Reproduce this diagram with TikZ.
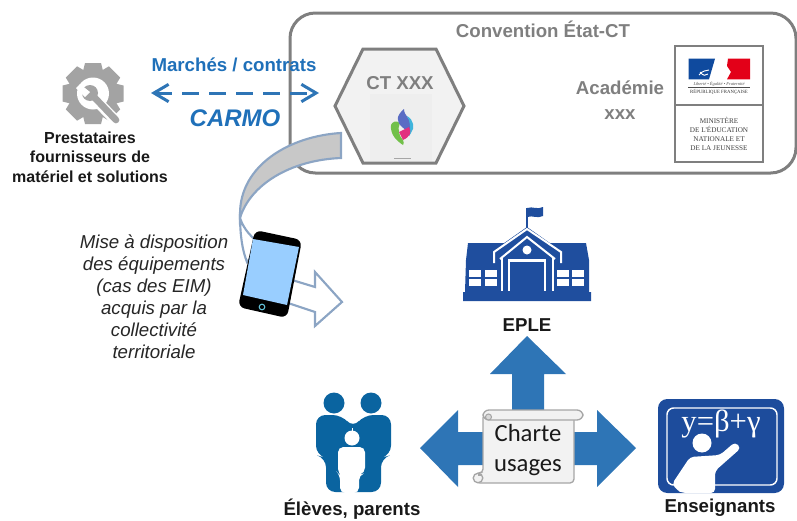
\documentclass[tikz,border=0pt]{standalone}
\usepackage{fontspec}
\setmainfont{Liberation Sans}
\newfontfamily\serifx{Liberation Serif}
\newfontfamily\carl{Carlito}
\usetikzlibrary{arrows.meta}
\definecolor{gline}{HTML}{7F7F7F}
\definecolor{hexfill}{HTML}{F2F2F2}
\definecolor{linkblue}{HTML}{1F70B9}
\definecolor{bigblue}{HTML}{2E75B6}
\definecolor{steel}{HTML}{8CA5C4}
\definecolor{curvegray}{HTML}{C8C8C8}
\definecolor{schoolblue}{HTML}{1F4E9E}
\definecolor{famblue}{HTML}{0A64A0}
\definecolor{iconblue}{HTML}{1D4C9C}
\definecolor{gearg}{HTML}{A3A3A3}
\definecolor{flagblue}{HTML}{0F4A9E}
\definecolor{flagred}{HTML}{E30018}
\definecolor{screenblue}{HTML}{99CEFF}
\definecolor{flpurple}{HTML}{5A6CC4}
\definecolor{flcyan}{HTML}{3FB4DC}
\definecolor{flgreen}{HTML}{72C04A}
\definecolor{flpink}{HTML}{E2307F}
\tikzset{
  x=0.75pt,y=-0.75pt,
  lbl/.style={font=\bfseries\fontsize{12}{14.6}\selectfont,align=center,text=black!90},
  big/.style={font=\bfseries\fontsize{14}{16}\selectfont,align=center,text=black!90},
  graytxt/.style={font=\bfseries\fontsize{14}{16}\selectfont,text=gline},
  bluetxt/.style={font=\bfseries\fontsize{14}{16}\selectfont,text=linkblue},
  mini/.style={font=\serifx\fontsize{5.4}{6.75}\selectfont,align=center,text=black!75,inner sep=0pt},
  dashconn/.style={draw=bigblue,line width=2.25pt,dash pattern=on 12.75pt off 7.5pt,
    {Straight Barb[length=11pt,width=13pt,line width=2.25pt]}-{Straight Barb[length=11pt,width=13pt,line width=2.25pt]}},
  whiteline/.style={draw=white,line width=1.5pt},
}
\begin{document}
\begin{tikzpicture}
\useasboundingbox (0,0) rectangle (797,521);
% convention frame
\draw[gline,line width=2.25pt,rounded corners=19pt] (290,13) rectangle (796,173);
\node[graytxt] (conv) at (543,29) {Convention État-CT};
% hexagon
\draw[gline,line width=2.25pt,fill=hexfill,line join=miter] (335,106)--(363,49)--(436,49)--(464,106)--(436,163)--(363,163)--cycle;
\fill[black!6.5] (370,94) rectangle (432,161);
\node[graytxt] (ct) at (400,83) {CT XXX};
% flame logo
\fill[black!35] (394,158) rectangle (411,158.8);
\fill[flgreen] (391,125) .. controls (392,122) and (396,120) .. (400,123) .. controls (397,129) and (399,136) .. (403,140) .. controls (404,142) and (404,144) .. (403,145) .. controls (397,141) and (390,135) .. (391,125) -- cycle;
\fill[flpurple] (404,109) .. controls (396,116) and (396,121) .. (402,127) .. controls (406,130) and (408,132) .. (409,136) .. controls (413,128) and (412,122) .. (408,118) .. controls (406,115) and (404,113) .. (404,109) -- cycle;
\fill[flcyan] (407,116) .. controls (414,120) and (415,128) .. (411,133) -- (409,136) .. controls (411,126) and (410,121) .. (407,116) -- cycle;
\fill[flpink] (399,132) -- (409,127) .. controls (412,132) and (410,137) .. (403,140) .. controls (402,137) and (400,135) .. (399,132) -- cycle;
% Academy
\node[graytxt] (acad) at (620,88) {Académie};
\node[graytxt] (xxx) at (620,115) {xxx};
% logo box
\draw[gline,line width=0.8pt,fill=white] (675,46) rectangle (763,162);
\draw[gline,line width=0.8pt] (675,105) -- (763,105);
\fill[flagblue] (688.5,58.7) -- (715,58.7) -- (709,79.3) -- (688.5,79.3) -- cycle;
\fill[flagred] (728,58.7) -- (750,58.7) -- (750,79.3) -- (727,79.3) -- (731,72) -- (727,66) -- cycle;
\draw[white,line width=0.7pt] (699,75) .. controls (703,70) and (706,71) .. (709,70);
\draw[white,line width=0.7pt] (700,72) .. controls (703,76) and (706,76) .. (708,74);
\draw[black!70,line width=0.4pt] (688,87.5) -- (750,87.5);
\node[inner sep=0pt,text=black!70,font=\serifx\itshape\fontsize{3.3}{4}\selectfont] (devise) at (719,84) {Liberté • Égalité • Fraternité};
\node[inner sep=0pt,text=black!80,font=\serifx\fontsize{3.6}{4}\selectfont] (rf) at (719,92) {RÉPUBLIQUE FRANÇAISE};
\node[mini] (min) at (719,133.5) {MINISTÈRE\\DE L'ÉDUCATION\\NATIONALE ET\\DE LA JEUNESSE};
% gear
\coordinate (gearc) at (93,93.5);
\foreach \a in {0,45,...,315}
  \fill[gearg,rotate around={\a:(gearc)}] (85,63)--(101,63)--(104,75)--(82,75)--cycle;
\fill[gearg] (gearc) circle[radius=24];
\fill[white] (gearc) circle[radius=16];
\draw[white,line width=8pt] (93,97) -- (118,123);
\draw[gearg,line width=5pt,line cap=round] (94,97) -- (116,120);
\fill[gearg] (90,93) circle[radius=8];
\fill[white] (80,84) -- (90,92) -- (85,97) -- (76,88) -- cycle;
\node[lbl] (prest) at (90,157) {Prestataires\\fournisseurs de\\matériel et solutions};
% marches
\node[bluetxt] (marches) at (234,65) {Marchés / contrats};
\node[text=linkblue,font=\bfseries\itshape\fontsize{18}{20}\selectfont] (carmo) at (235,118) {CARMO};
\coordinate (dashL) at (151,93);
\coordinate (dashR) at (319,93);
\draw[dashconn] (dashL) -- (dashR);
% curved arrow
\draw[steel,line width=1.6pt,fill=white] (240,214) .. controls (240,238) and (243,252) .. (247,262) -- (262,245) .. controls (252,238) and (244,230) .. (240,218) -- cycle;
\draw[steel,line width=1.6pt,fill=curvegray,line join=miter] (341,133) .. controls (290,136) and (240,165) .. (240,214) -- (240,218) .. controls (250,185) and (290,160) .. (341,158) -- cycle;
% hollow arrow
\draw[steel,line width=1.6pt,fill=white,line join=miter] (292,280) -- (315,287) -- (315,272) -- (342,302) -- (315,326) -- (315,312) -- (288,303) -- cycle;
% phone
\fill[black,rounded corners=5pt] (255,230) -- (302,240) -- (287,318) -- (238,307) -- cycle;
\fill[screenblue] (253,239) -- (299,247) -- (287,305) -- (243,295) -- cycle;
\draw[steel!70!cyan,line width=0.8pt] (262,307) circle[radius=2.8];
% italic text
\node[font=\itshape\fontsize{14}{16.5}\selectfont,align=center,text=black!85] (mise) at (154,297) {Mise à disposition\\des équipements\\(cas des EIM)\\acquis par la\\collectivité\\territoriale};
% school
\draw[schoolblue,line width=1pt] (527,208) -- (527,228);
\fill[schoolblue] (527,208) .. controls (533,206) and (537,210) .. (543,207) -- (543,216) .. controls (537,219) and (533,215) .. (527,217) -- cycle;
\fill[schoolblue] (468,243) -- (586,243) -- (589,260) -- (589,292) -- (591,292) -- (591,301) -- (463,301) -- (463,292) -- (465,292) -- (466,260) -- cycle;
\fill[schoolblue] (527,227) -- (564,253) -- (564,262) -- (490,262) -- (490,253) -- cycle;
\draw[whiteline,line join=miter] (494,263) -- (494,252) -- (527,229) -- (561,252) -- (561,263);
\draw[whiteline,line join=miter] (500,259) -- (527,237) -- (555,259);
\fill[white] (527,250) circle[radius=4.5];
\draw[whiteline] (501.5,258) -- (501.5,291);
\draw[whiteline] (552.5,258) -- (552.5,291);
\draw[white,line width=1.8pt] (509,291) -- (509,260.5) -- (545,260.5) -- (545,291);
\foreach \xx in {469,485,557,572} \foreach \yy in {270,279} \fill[white] (\xx,\yy) rectangle +(11.5,7);
\node[big] (eple) at (527,325) {EPLE};
% big arrows
\fill[bigblue] (527,336) -- (566,374) -- (544,374) -- (544,415) -- (512,415) -- (512,374) -- (490,374) -- cycle;
\fill[bigblue] (420,448) -- (458,410) -- (458,432) -- (490,432) -- (490,465) -- (458,465) -- (458,487) -- cycle;
\fill[bigblue] (636,448) -- (597,410) -- (597,432) -- (565,432) -- (565,465) -- (597,465) -- (597,487) -- cycle;
% scroll
\draw[black!35,line width=1pt,fill=hexfill,rounded corners=3pt] (483,414) -- (483,473) -- (476,473) -- (476,483) -- (574,483) -- (574,416) -- cycle;
\draw[black!35,line width=1pt,fill=hexfill,rounded corners=4.5pt] (483,410) rectangle (583,420);
\draw[black!35,line width=1pt,fill=hexfill] (478,478) circle[radius=4.8];
\draw[black!35,line width=0.8pt] (478,475) -- (482,475);
\draw[black!35,line width=0.8pt,fill=black!15] (488.5,417) circle[radius=3];
\node[font=\carl\fontsize{18.5}{22.5}\selectfont,align=center,text=black!90,inner sep=0pt] (charte) at (528,450) {Charte\\usages};
% family
\fill[famblue] (334,403) circle[radius=10.5];
\fill[famblue] (371,403) circle[radius=10.5];
\fill[famblue,rounded corners=7pt] (316,455) -- (316,415) -- (342,415) -- (353,428) -- (364,415) -- (391,415) -- (391,455) -- (381,458) -- (381,492) -- (326,492) -- (326,458) -- cycle;
\draw[white,line width=0.8pt] (352.5,428) -- (352.5,440);
\fill[white] (352,438) circle[radius=7.5];
\fill[white,rounded corners=4pt] (338,473) -- (338,447) -- (365,447) -- (365,473) -- (359,475) -- (359,493) -- (340,493) -- (340,475) -- cycle;
\node[big] (eleves) at (352,509) {Élèves, parents};
% teacher
\fill[iconblue,rounded corners=7pt] (658,399) rectangle (784,493);
\draw[white,line width=1.1pt,rounded corners=5pt] (667,408) rectangle (777,485);
\node[text=white,font=\serifx\fontsize{23}{25}\selectfont,inner sep=0pt] (formula) at (721,424) {y=β+γ};
\fill[white] (702,443) circle[radius=9.5];
\fill[white,rounded corners=3pt] (690,457) -- (720,455) -- (735,442) -- (741,448) -- (715,471) -- (715,493) -- (682,493) -- (677,490) -- (672,484) -- cycle;
\node[big] (ens) at (720,508) {Enseignants};
\end{tikzpicture}
\end{document}
